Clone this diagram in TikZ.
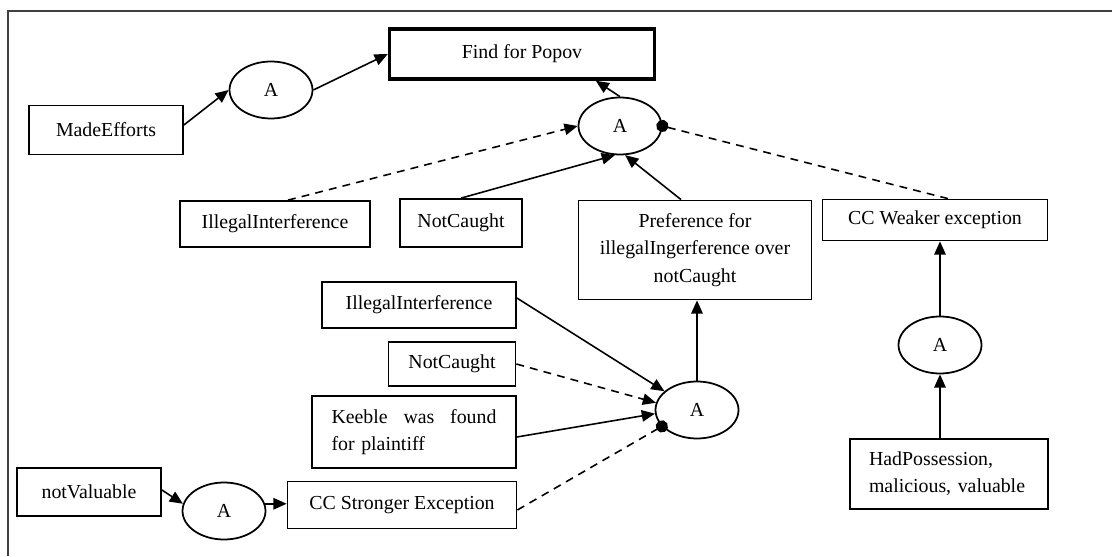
\documentclass[tikz,border=0pt]{standalone}
\usepackage{fontspec}
\setmainfont{Liberation Serif}
\usetikzlibrary{arrows,arrows.meta,calc,positioning,shapes.geometric}

\begin{document}
\begin{tikzpicture}[
    x=0.02cm, y=-0.02cm,
    box/.style={draw, line width=1pt, align=center, inner sep=2pt,
                font=\fontsize{11.3}{15.5}\selectfont},
    thickbox/.style={box, line width=2pt},
    andnode/.style={ellipse, draw, line width=1pt, inner sep=0pt,
                    minimum width=1.66cm, minimum height=1.14cm,
                    font=\fontsize{11.3}{15.5}\selectfont},
    line/.style={-{Triangle[length=7.5pt,width=6.5pt]}, line width=0.9pt},
    dashline/.style={line, dash pattern=on 4.5pt off 3.5pt},
    dotline/.style={-{Circle[length=7pt]}, line width=0.9pt,
                    dash pattern=on 4.5pt off 3.5pt, shorten >=-3.5pt}
]
    \useasboundingbox (0,0) rectangle (1112,557);
    \draw[line width=0.9pt, black!75] (8,556) -- (8,11) -- (1112,11);

    \node[thickbox, minimum width=5.3cm, minimum height=1.0cm] (popov) at (522,54) {Find for Popov};
    \node[andnode] (a1) at (271,90) {A};
    \node[box, minimum width=3.08cm, minimum height=0.98cm] (made) at (106,130) {MadeEfforts};
    \node[andnode] (a2) at (620,126) {A};
    \node[box, minimum width=3.8cm, minimum height=0.92cm] (illtop) at (275,224) {IllegalInterference};
    \node[box, minimum width=2.44cm, minimum height=0.96cm] (nctop) at (461,223) {NotCaught};
    \node[box, minimum width=4.66cm, minimum height=1.98cm] (pref) at (695,250)
        {Preference for\\illegalIngerference over\\notCaught};
    \node[box, minimum width=4.5cm, minimum height=0.82cm] (weak) at (935,220) {CC Weaker exception};
    \node[andnode] (aright) at (940,345) {A};
    \node[box, align=left, text width=3.2cm, inner xsep=0.38cm, minimum height=1.4cm] (had) at (949,474)
        {HadPossession,\\malicious, valuable};
    \node[andnode] (amid) at (697,410) {A};
    \node[box, minimum width=3.88cm, minimum height=0.92cm] (illlow) at (419,305) {IllegalInterference};
    \node[box, minimum width=2.54cm, minimum height=0.88cm] (nclow) at (452,364) {NotCaught};
    \node[box, align=left, text width=3.3cm, inner xsep=0.39cm, minimum height=1.44cm] (keeble) at (414,432)
        {\hbox to 3.3cm{Keeble\hfill was\hfill found}\\for plaintiff};
    \node[box, minimum width=4.58cm, minimum height=0.94cm] (strong) at (402,505) {CC Stronger Exception};
    \node[box, minimum width=2.88cm, minimum height=0.96cm] (notval) at (89,492) {notValuable};
    \node[andnode] (aleft) at (224,511) {A};

    \draw[line] ([yshift=0.1cm]made.east) -- (a1.west);
    \draw[line] (a1.east) -- (popov.west);
    \draw[line] (a2.north) -- ($(popov.south)!0.55!(popov.south east)$);
    \draw[dashline] ([xshift=0.26cm]illtop.north) -- (a2.west);
    \draw[line] (nctop.north) -- (a2.260);
    \draw[line] ([xshift=-0.28cm]pref.north) -- (a2.280);
    \draw[dotline] ([xshift=0.26cm]weak.north) -- (a2.east);
    \draw[line] (aright.north) -- (aright.north |- weak.south);
    \draw[line] (aright.south |- had.north) -- (aright.south);
    \draw[line] (amid.north) -- (amid.north |- pref.south);
    \draw[line] ([yshift=0.14cm]illlow.east) -- (amid.150);
    \draw[dashline] (nclow.east) -- (amid.170);
    \draw[line] ([yshift=-0.1cm]keeble.east) -- (amid.185);
    \draw[dotline] ([yshift=-0.1cm]strong.east) -- (amid.205);
    \draw[line] ([yshift=0.04cm]notval.east) -- (aleft.170);
    \draw[line] (aleft.10) -- (aleft.10 -| strong.west);
\end{tikzpicture}
\end{document}
